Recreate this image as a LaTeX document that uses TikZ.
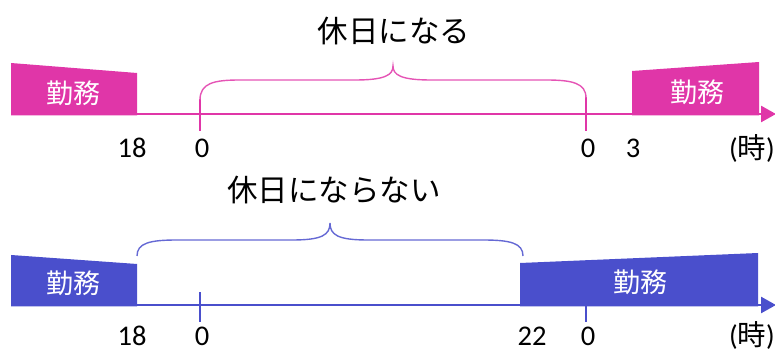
\documentclass[tikz,border=0pt]{standalone}
\usepackage{fontspec}
\setmainfont{Carlito}
\newfontfamily\jp{Noto Sans CJK JP}
\usetikzlibrary{arrows.meta}
\definecolor{pinkc}{HTML}{E036A8}
\definecolor{bluec}{HTML}{4A4FCC}
\tikzset{
  axisline/.style={line width=2.6pt,-{Triangle[length=15pt,width=16pt]}},
  tickline/.style={line width=2pt},
  braceline/.style={line width=1.4pt},
  numlab/.style={font=\fontsize{28.5}{30}\selectfont,text=black,inner sep=0pt},
  titlelab/.style={font=\jp\fontsize{30.5}{32}\selectfont,text=black,inner sep=0pt},
  boxlab/.style={font=\jp\fontsize{27}{29}\selectfont,text=white,inner sep=0pt},
}
\begin{document}
\begin{tikzpicture}[x=1pt,y=-1pt]
\useasboundingbox (0,0) rectangle (775,352);
% ---------- top row ----------
\coordinate (ta0) at (11,114);
\coordinate (ta1) at (776,114);
\fill[pinkc] (11,63) -- (137,73) -- (137,115.3) -- (11,115.3) -- cycle;
\fill[pinkc] (632,71) -- (759,62) -- (759,115.3) -- (632,115.3) -- cycle;
\draw[pinkc,axisline] (ta0) -- (ta1);
\coordinate (tt1a) at (200,99);
\coordinate (tt1b) at (200,131);
\coordinate (tt2a) at (586,97);
\coordinate (tt2b) at (586,131);
\draw[pinkc,tickline] (tt1a) -- (tt1b);
\draw[pinkc,tickline] (tt2a) -- (tt2b);
\draw[pinkc!85!white,braceline] (200,100) .. controls (200,83) and (214,80) .. (240,80) -- (355,80)
  .. controls (385,80) and (393,75) .. (393,66)
  .. controls (393,75) and (401,80) .. (431,80) -- (546,80)
  .. controls (572,80) and (586,83) .. (586,98);
\node[boxlab] (tw1) at (73,93) {勤務};
\node[boxlab] (tw2) at (697,92) {勤務};
\node[titlelab] (tt) at (394,31) {休日になる};
\node[numlab] (tn1) at (132,148) {18};
\node[numlab] (tn2) at (202,148) {0};
\node[numlab] (tn3) at (588,148) {0};
\node[numlab] (tn4) at (633,148) {3};
\node[numlab,anchor=east] (tn5) at (775,148) {(\jp 時\rm )};
% ---------- bottom row ----------
\coordinate (ba0) at (11,305);
\coordinate (ba1) at (776,305);
\fill[bluec] (11,255) -- (137,264) -- (137,306.3) -- (11,306.3) -- cycle;
\fill[bluec] (520,263) -- (758,253) -- (758,306.3) -- (520,306.3) -- cycle;
\draw[bluec,axisline] (ba0) -- (ba1);
\coordinate (bt1a) at (200,292);
\coordinate (bt1b) at (200,322);
\coordinate (bt2a) at (586,305);
\coordinate (bt2b) at (586,322);
\draw[bluec,tickline] (bt1a) -- (bt1b);
\draw[bluec,tickline] (bt2a) -- (bt2b);
\draw[bluec!85!white,braceline] (137,256) .. controls (137,243) and (150,240) .. (177,240) -- (292,240)
  .. controls (322,240) and (330,235) .. (330,223)
  .. controls (330,235) and (338,240) .. (368,240) -- (483,240)
  .. controls (510,240) and (523,243) .. (523,256);
\node[boxlab] (bw1) at (73,283) {勤務};
\node[boxlab] (bw2) at (640,282) {勤務};
\node[titlelab] (bt) at (334,190) {休日にならない};
\node[numlab] (bn1) at (132,336) {18};
\node[numlab] (bn2) at (202,336) {0};
\node[numlab] (bn3) at (532,336) {22};
\node[numlab] (bn4) at (588,336) {0};
\node[numlab,anchor=east] (bn5) at (775,335) {(\jp 時\rm )};
\end{tikzpicture}
\end{document}
